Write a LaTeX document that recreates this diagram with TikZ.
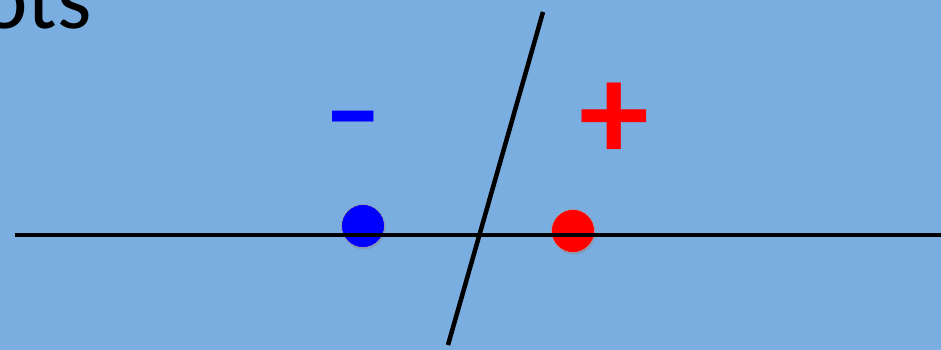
\documentclass[tikz,border=0pt]{standalone}
\usepackage{fontspec}
\setmainfont{Carlito}
\usetikzlibrary{shadows}
\definecolor{slide}{RGB}{122,173,224}
\definecolor{neg}{RGB}{0,0,255}
\definecolor{pos}{RGB}{255,0,0}

\begin{document}
\begin{tikzpicture}[x=1pt, y=-1pt,
    dot/.style={circle, minimum size=43pt, inner sep=0pt, draw=gray!70,
      line width=0.6pt, drop shadow={shadow xshift=1pt, shadow yshift=-2pt,
      opacity=0.35}},
    sign/.style={font=\fontsize{140}{140}\selectfont\bfseries, anchor=base,
      inner sep=0pt},
    axis/.style={line width=4.5pt, black},
  ]
  \useasboundingbox[fill=slide] (0,0) rectangle (941,350);

  % title, cut off at the top left
  \node[font=\fontsize{88}{88}\selectfont, anchor=base east, inner sep=0pt]
    (title) at (92,29) {ots};

  % the two points
  \node[dot, fill=neg] (negdot) at (363,226) {};
  \node[dot, fill=pos] (posdot) at (573,231) {};

  % number line and separator
  \coordinate (axisL) at (15,235);
  \coordinate (axisR) at (941,235);
  \coordinate (sepT) at (543,12);
  \coordinate (sepB) at (448,345);
  \draw[axis] (axisL) -- (axisR);
  \draw[axis] (sepT) -- (sepB);

  % class labels
  \node[sign, text=neg, xscale=1.2, yscale=0.75] (negsign) at (353,146) {-};
  \node[sign, text=pos] (possign) at (614,160) {+};
\end{tikzpicture}
\end{document}
